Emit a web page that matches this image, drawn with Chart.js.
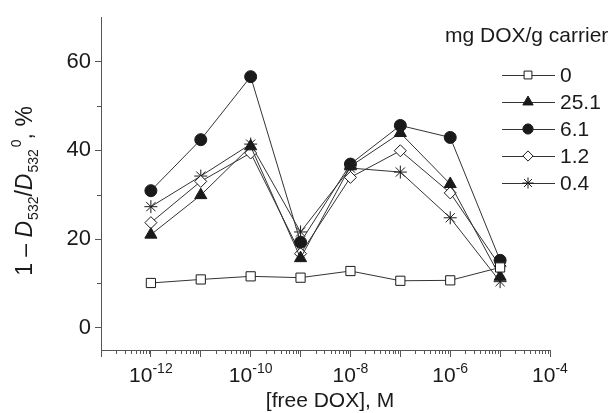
<!DOCTYPE html>
<html>
<head>
<meta charset="utf-8">
<script src="https://cdn.jsdelivr.net/npm/chart.js@4.4.0/dist/chart.umd.min.js"></script>
<style>
  html, body { margin: 0; padding: 0; background: #fff; }
  #wrap { width: 615px; height: 413px; }
</style>
</head>
<body>
<div id="wrap"><canvas id="chart" width="615" height="413"></canvas></div>
<script>
// free DOX concentration, M
const FREE_DOX = [1e-12, 1e-11, 1e-10, 1e-9, 1e-8, 1e-7, 1e-6, 1e-5];

// 1 - D532/D532^0, % for each carrier loading (mg DOX/g carrier)
const SERIES_LABELS = ['0', '25.1', '6.1', '1.2', '0.4'];
const LOAD_0    = [10.1, 10.9, 11.6, 11.3, 12.8, 10.6, 10.7, 13.6];
const LOAD_25_1 = [21.0, 29.9, 40.9, 15.7, 36.4, 43.9, 32.4, 11.5];
const LOAD_6_1  = [30.9, 42.4, 56.6, 19.3, 36.9, 45.6, 42.9, 15.2];
const LOAD_1_2  = [23.7, 33.0, 39.4, 16.7, 33.9, 39.9, 30.4, 13.9];
const LOAD_0_4  = [27.3, 34.2, 41.4, 21.6, 36.0, 35.1, 24.8, 10.4];

const X_DECADES = [-13, -12, -11, -10, -9, -8, -7, -6, -5, -4];
const X_LABEL_EXPONENTS = [-12, -10, -8, -6, -4];
const Y_TICKS = [0, 20, 40, 60];
const Y_MINOR = [10, 30, 50];

const INK = '#1a1a1a';
const AXIS = '#555';
const FONT = '"Liberation Sans", Arial, sans-serif';

function toPoints(values) {
  return FREE_DOX.map((x, i) => ({ x, y: values[i] }));
}

function series(label, values, style, radius, fill) {
  return {
    label,
    data: toPoints(values),
    borderColor: '#333',
    borderWidth: 1,
    pointStyle: style,
    pointRadius: radius,
    pointHoverRadius: radius,
    pointBackgroundColor: fill,
    pointBorderColor: INK,
    pointBorderWidth: 1,
    tension: 0,
  };
}

const datasets = [
  series(SERIES_LABELS[0], LOAD_0,    'rect',     6.5, '#fff'),
  series(SERIES_LABELS[1], LOAD_25_1, 'triangle', 7,   INK),
  series(SERIES_LABELS[2], LOAD_6_1,  'circle',   6,   INK),
  series(SERIES_LABELS[3], LOAD_1_2,  'rectRot',  6,   '#fff'),
  series(SERIES_LABELS[4], LOAD_0_4,  'star',     6.5, INK),
];

// draw a run of text pieces (normal / sub / sup) along the baseline
function drawRich(ctx, pieces, x, y) {
  let cx = x;
  pieces.forEach(p => {
    ctx.font = p.font;
    ctx.fillText(p.text, cx, y + (p.dy || 0));
    cx += ctx.measureText(p.text).width + (p.gap || 0);
  });
  return cx - x;
}

function richWidth(ctx, pieces) {
  return pieces.reduce((w, p) => {
    ctx.font = p.font;
    return w + ctx.measureText(p.text).width + (p.gap || 0);
  }, 0);
}

const decorations = {
  id: 'decorations',
  afterDraw(chart) {
    const ctx = chart.ctx;
    const xs = chart.scales.x;
    const ys = chart.scales.y;
    const area = chart.chartArea;

    ctx.save();
    // minor ticks
    ctx.strokeStyle = AXIS;
    ctx.lineWidth = 1;
    ctx.beginPath();
    X_DECADES.slice(0, -1).forEach(e => {
      for (let m = 2; m <= 9; m++) {
        const px = Math.round(xs.getPixelForValue(m * Math.pow(10, e))) + 0.5;
        ctx.moveTo(px, area.bottom);
        ctx.lineTo(px, area.bottom + 4);
      }
    });
    Y_MINOR.forEach(v => {
      const py = Math.round(ys.getPixelForValue(v)) + 0.5;
      ctx.moveTo(area.left, py);
      ctx.lineTo(area.left - 4, py);
    });
    ctx.stroke();

    // x tick labels with superscript exponents
    ctx.fillStyle = INK;
    ctx.textBaseline = 'alphabetic';
    ctx.textAlign = 'left';
    X_LABEL_EXPONENTS.forEach(e => {
      const pieces = [
        { text: '10', font: '21px ' + FONT },
        { text: '-' + Math.abs(e), font: '14px ' + FONT, dy: -9 },
      ];
      const w = richWidth(ctx, pieces);
      const px = xs.getPixelForValue(Math.pow(10, e));
      drawRich(ctx, pieces, px - w / 2, 382);
    });

    // x title
    ctx.font = '21px ' + FONT;
    ctx.textAlign = 'center';
    ctx.fillText('[free DOX], M', 330, 407);

    // y title, rotated
    ctx.textAlign = 'left';
    const main = '23px ' + FONT;
    const ital = 'italic 23px ' + FONT;
    const small = '14px ' + FONT;
    const yPieces = [
      { text: '1 \u2013 ', font: main },
      { text: 'D', font: ital, gap: 1 },
      { text: '532', font: small, dy: 6 },
      { text: '/', font: main },
      { text: 'D', font: ital, gap: 1 },
      { text: '532', font: small, dy: 6, gap: 2 },
      { text: '0', font: small, dy: -11 },
      { text: ', %', font: main },
    ];
    const tw = richWidth(ctx, yPieces);
    ctx.translate(32, 191);
    ctx.rotate(-Math.PI / 2);
    drawRich(ctx, yPieces, -tw / 2, 0);
    ctx.setTransform(1, 0, 0, 1, 0, 0);

    // legend
    ctx.font = '21px ' + FONT;
    ctx.textAlign = 'left';
    ctx.textBaseline = 'middle';
    ctx.fillText('mg DOX/g carrier', 445, 36);
    chart.data.datasets.forEach((ds, i) => {
      const ly = 75 + i * 27;
      ctx.strokeStyle = '#333';
      ctx.lineWidth = 1;
      ctx.beginPath();
      ctx.moveTo(502, ly + 0.5);
      ctx.lineTo(555, ly + 0.5);
      ctx.stroke();
      ctx.fillStyle = ds.pointBackgroundColor;
      ctx.strokeStyle = ds.pointBorderColor;
      Chart.helpers.drawPoint(ctx, {
        pointStyle: ds.pointStyle,
        radius: ds.pointRadius * 0.85,
        rotation: 0,
        borderWidth: 1,
      }, 528, ly);
      ctx.fillStyle = INK;
      ctx.fillText(ds.label, 560, ly + 1);
    });
    ctx.restore();
  },
};

new Chart(document.getElementById('chart'), {
  type: 'line',
  data: { datasets },
  options: {
    responsive: false,
    animation: false,
    layout: { padding: { left: 0, right: 65, top: 15, bottom: 0 } },
    plugins: { legend: { display: false }, tooltip: { enabled: false } },
    scales: {
      x: {
        type: 'logarithmic',
        min: 1e-13,
        max: 1e-4,
        afterBuildTicks: scale => {
          scale.ticks = X_DECADES.map(e => ({ value: Math.pow(10, e) }));
        },
        afterFit: scale => { scale.height = 63; },
        ticks: { display: false },
        grid: { drawOnChartArea: false, tickLength: 7, tickColor: AXIS },
        border: { color: AXIS, width: 1 },
      },
      y: {
        type: 'linear',
        min: -5,
        max: 70,
        afterBuildTicks: scale => {
          scale.ticks = Y_TICKS.map(v => ({ value: v }));
        },
        afterFit: scale => { scale.width = 101; },
        ticks: { color: INK, font: { family: FONT, size: 22 }, padding: 4 },
        grid: { drawOnChartArea: false, tickLength: 6, tickColor: AXIS },
        border: { color: AXIS, width: 1 },
      },
    },
  },
  plugins: [decorations],
});
</script>
</body>
</html>
